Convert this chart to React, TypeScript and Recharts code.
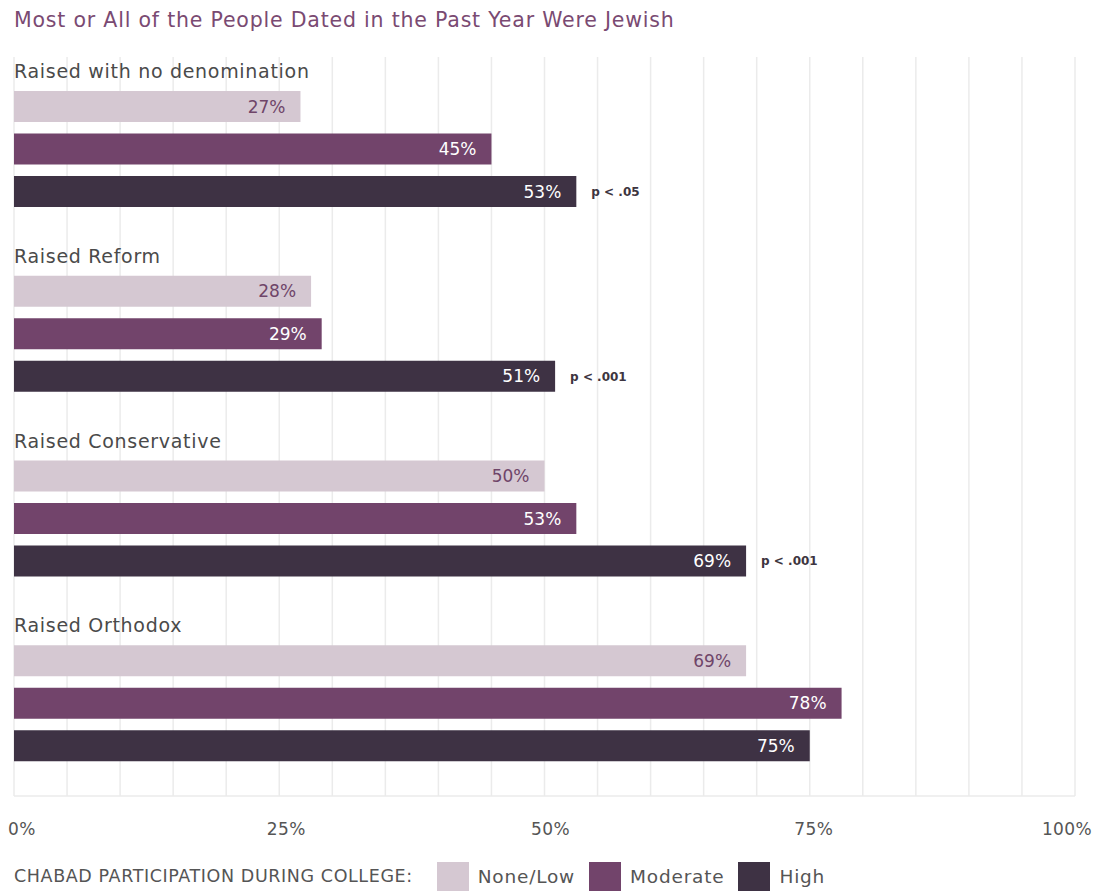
import { BarChart, Bar, XAxis, YAxis, CartesianGrid, Legend, LabelList } from 'recharts';

const groups = ['Raised with no denomination', 'Raised Reform', 'Raised Conservative', 'Raised Orthodox'];
const noneLow = [27, 28, 50, 69];
const moderate = [45, 29, 53, 78];
const high = [53, 51, 69, 75];
const pValues = ['p < .05', 'p < .001', 'p < .001', ''];
const axisTicks = [0, 25, 50, 75, 100];
const gridTicks = [0, 5, 10, 15, 20, 25, 30, 35, 40, 45, 50, 55, 60, 65, 70, 75, 80, 85, 90, 95, 100];

const series = [
  { key: 'low', name: 'None/Low', color: '#d5c8d2', text: '#6f4569' },
  { key: 'mod', name: 'Moderate', color: '#72446b', text: '#ffffff' },
  { key: 'high', name: 'High', color: '#3e3244', text: '#ffffff' },
];

const data = groups.map((name, i) => ({
  name,
  low: noneLow[i],
  mod: moderate[i],
  high: high[i],
  p: pValues[i],
}));

const FONT = '"DejaVu Sans", Inter, sans-serif';

const tickShift = [8, 7, 6, 4, -8];

const AxisTick = (props: any) => {
  const { x, y, payload, index } = props;
  return (
    <text
      x={x + tickShift[index]}
      y={y + 25}
      textAnchor="middle"
      dominantBaseline="central"
      fontFamily={FONT}
      fontSize={17}
      style={{ letterSpacing: 0.4 }}
      fill="#555"
    >
      {payload.value}%
    </text>
  );
};

const GroupLabel = (props: any) => {
  const vb = props.viewBox ?? props;
  return (
    <text
      x={vb.x}
      y={vb.y - 20}
      dominantBaseline="central"
      fontFamily={FONT}
      fontSize={19}
      style={{ letterSpacing: 0.7 }}
      fill="#4a4a4a"
    >
      {props.value}
    </text>
  );
};

// vertical gridlines every 5%, placed through the x scale
const gridLines = (props: any) => {
  const { xAxis, offset } = props;
  if (xAxis && typeof xAxis.scale === 'function') return gridTicks.map((t) => xAxis.scale(t));
  return gridTicks.map((t) => offset.left + (t / 100) * offset.width);
};

const LegendBox = () => (
  <div style={{ display: 'flex', alignItems: 'center', height: 30, fontFamily: FONT, color: '#555' }}>
    <span style={{ fontSize: 17.5, letterSpacing: 0.6, marginRight: 24 }}>CHABAD PARTICIPATION DURING COLLEGE:</span>
    {series.map((s) => (
      <span key={s.key} style={{ display: 'flex', alignItems: 'center', marginRight: 14 }}>
        <span style={{ width: 32, height: 29, background: s.color, display: 'inline-block', marginRight: 9 }} />
        <span style={{ fontSize: 18.5, letterSpacing: 0.8 }}>{s.name}</span>
      </span>
    ))}
  </div>
);

export default function App() {
  return (
    <div style={{ position: 'absolute', left: 0, top: 0, width: 1096, height: 891, background: '#fff' }}>
      <div
        style={{
          position: 'absolute',
          left: 14,
          top: 8,
          fontFamily: FONT,
          fontSize: 20.5,
          letterSpacing: 0.8,
          color: '#7a4a72',
          lineHeight: '24px',
          whiteSpace: 'nowrap',
        }}
      >
        Most or All of the People Dated in the Past Year Were Jewish
      </div>
      <BarChart
        width={1096}
        height={891}
        data={data}
        layout="vertical"
        margin={{ top: 57, right: 21, left: 14, bottom: 0 }}
        barSize={31}
        barGap={11.5}
      >
        <CartesianGrid horizontal={false} stroke="#ebebeb" strokeWidth={1.5} verticalCoordinatesGenerator={gridLines} />
        <XAxis
          type="number"
          domain={[0, 100]}
          ticks={axisTicks}
          tick={<AxisTick />}
          tickLine={false}
          axisLine={{ stroke: '#ebebeb', strokeWidth: 1.5 }}
          height={65}
          interval={0}
        />
        <YAxis type="category" dataKey="name" hide />
        <Legend verticalAlign="bottom" align="left" content={<LegendBox />} />
        {series.map((s, si) => (
          <Bar key={s.key} dataKey={s.key} name={s.name} fill={s.color} isAnimationActive={false}>
            <LabelList
              dataKey={s.key}
              position="insideRight"
              offset={15}
              fill={s.text}
              fontSize={17}
              fontFamily={FONT}
              formatter={(v: any) => `${v}%`}
            />
            {si === 0 && <LabelList dataKey="name" content={<GroupLabel />} />}
            {si === 2 && (
              <LabelList
                dataKey="p"
                position="right"
                offset={15}
                fill="#3d3540"
                fontSize={12}
                fontWeight={700}
                fontFamily={FONT}
              />
            )}
          </Bar>
        ))}
      </BarChart>
    </div>
  );
}
